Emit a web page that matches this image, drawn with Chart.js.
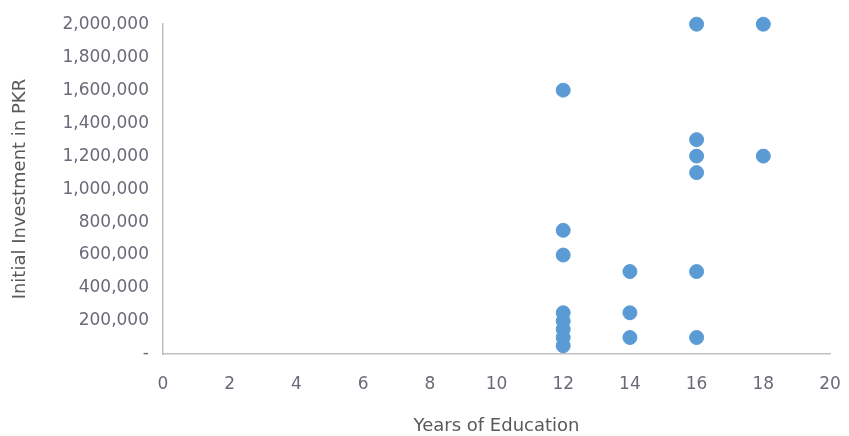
<!DOCTYPE html>
<html>
<head>
<meta charset="utf-8">
<script src="https://cdn.jsdelivr.net/npm/chart.js@4"></script>
<style>
  html, body { margin: 0; padding: 0; background: #fff; }
  #wrap { width: 849px; height: 436px; }
</style>
</head>
<body>
<div id="wrap"><canvas id="investChart" width="849" height="436"></canvas></div>
<script>
// Years of education vs initial investment
var xValues = [12, 12, 12, 12, 12, 12, 12, 12, 14, 14, 14, 16, 16, 16, 16, 16, 16, 18, 18];
var yValues = [1600000, 750000, 600000, 250000, 200000, 150000, 100000, 50000,
               500000, 250000, 100000,
               2000000, 1300000, 1200000, 1100000, 500000, 100000,
               2000000, 1200000];
var xTicks = [0, 2, 4, 6, 8, 10, 12, 14, 16, 18, 20];

var points = xValues.map(function (x, i) { return { x: x, y: yValues[i] }; });

var tickColor = "#6a6a78";
var titleColor = "#595959";
var font = "DejaVu Sans";

new Chart("investChart", {
    type: "scatter",
    data: {
        datasets: [{
            data: points,
            backgroundColor: "#5b9bd5",
            borderColor: "#5b9bd5",
            pointRadius: 7,
            pointHoverRadius: 7,
            clip: false
        }]
    },
    options: {
        responsive: false,
        animation: false,
        layout: { padding: { left: 0, right: 19, top: 17, bottom: 0 } },
        plugins: {
            legend: { display: false },
            tooltip: { enabled: false }
        },
        scales: {
            x: {
                type: "linear",
                min: 0,
                max: 20,
                afterBuildTicks: function (axis) {
                    axis.ticks = xTicks.map(function (v) { return { value: v }; });
                },
                afterFit: function (axis) {
                    axis.height = 82;
                    axis.paddingLeft = 0;
                    axis.paddingRight = 0;
                },
                grid: { display: false, drawTicks: false },
                border: { color: "#bfbfbf", width: 1.5 },
                ticks: { color: tickColor, font: { family: font, size: 17 }, padding: 20 },
                title: {
                    display: true,
                    text: "Years of Education",
                    color: titleColor,
                    font: { family: font, size: 18 },
                    padding: { top: 4, bottom: -1 }
                }
            },
            y: {
                min: 0,
                max: 2000000,
                afterFit: function (axis) { axis.width = 163; },
                grid: { display: false, drawTicks: false },
                border: { color: "#bfbfbf", width: 1.5 },
                ticks: {
                    stepSize: 200000,
                    color: tickColor,
                    font: { family: font, size: 17 },
                    padding: 14,
                    callback: function (v) {
                        return v === 0 ? "-" : v.toLocaleString("en-US");
                    }
                },
                title: {
                    display: true,
                    text: "Initial Investment in PKR",
                    color: titleColor,
                    font: { family: font, size: 18 },
                    padding: { top: 10, bottom: 0 }
                }
            }
        }
    }
});
</script>
</body>
</html>
